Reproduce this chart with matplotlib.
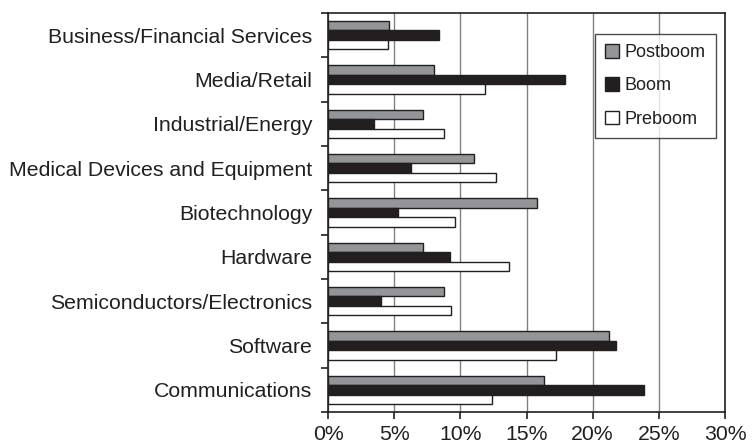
import matplotlib.pyplot as plt
import numpy as np
from matplotlib.ticker import FixedLocator, PercentFormatter

plt.rcParams['font.family'] = ['Liberation Sans', 'DejaVu Sans']

categories = ["Business/Financial Services", "Media/Retail", "Industrial/Energy",
              "Medical Devices and Equipment", "Biotechnology", "Hardware",
              "Semiconductors/Electronics", "Software", "Communications"]
postboom = [4.6, 8.0, 7.2, 11.0, 15.8, 7.2, 8.8, 21.2, 16.3]
boom = [8.4, 17.9, 3.5, 6.3, 5.3, 9.2, 4.0, 21.8, 23.9]
preboom = [4.5, 11.9, 8.8, 12.7, 9.6, 13.7, 9.3, 17.2, 12.4]

fig = plt.figure(figsize=(7.55, 4.43), dpi=100)
ax = fig.add_axes([328/755, 1-412/443, 397/755, 399/443])

n = len(categories)
y = np.arange(n)[::-1]
h = 0.215
ax.barh(y + h, postboom, height=h, color="#939598", edgecolor="#231f20", lw=1, label="Postboom", zorder=3)
ax.barh(y, boom, height=h, color="#231f20", edgecolor="#231f20", lw=1, label="Boom", zorder=3)
ax.barh(y - h, preboom, height=h, color="white", edgecolor="#231f20", lw=1, label="Preboom", zorder=3)

ax.set_xlim(0, 30)
ax.set_ylim(-0.5, n - 0.5)
ax.set_xticks(np.arange(0, 31, 5))
ax.xaxis.set_major_formatter(PercentFormatter(decimals=0))
ax.set_yticks(y)
ax.set_yticklabels(categories, color="#231f20")
ax.yaxis.set_minor_locator(FixedLocator(np.arange(-0.5, n, 1)))
ax.tick_params(axis='y', which='major', length=0, labelsize=15.3, pad=11.5)
ax.tick_params(axis='y', which='minor', length=5, width=1.2, color="#231f20")
ax.tick_params(axis='x', length=5, width=1.2, color="#231f20", labelcolor="#231f20", labelsize=15.3, pad=4)
ax.grid(axis='x', color="#808080", lw=1, zorder=0)

for s in ax.spines.values():
    s.set_color("#231f20")
    s.set_linewidth(1.2)

leg = ax.legend(loc="upper right", bbox_to_anchor=(0.977, 0.947), fontsize=13,
                frameon=True, fancybox=False, edgecolor="#231f20",
                handlelength=0.78, handleheight=0.78, handletextpad=0.35,
                labelspacing=0.9, borderpad=0.55, borderaxespad=0)
leg.get_frame().set_linewidth(1)
for t in leg.get_texts():
    t.set_color("#231f20")

fig.savefig("out.png", dpi=100)
